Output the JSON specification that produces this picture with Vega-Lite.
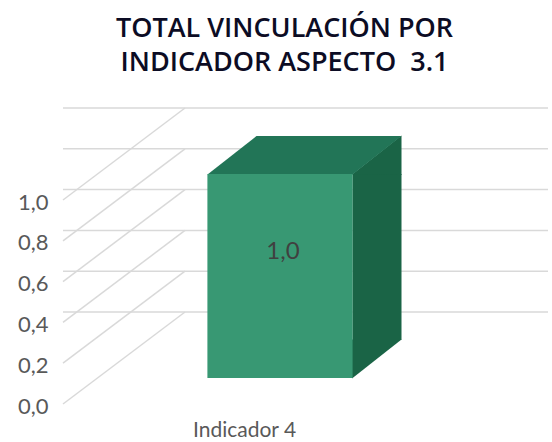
{
  "$schema": "https://vega.github.io/schema/vega-lite/v6.json",
  "width": 363,
  "height": 204,
  "autosize": "none",
  "padding": {"left": 63, "top": 200, "right": 126, "bottom": 38},
  "title": {
    "text": ["TOTAL VINCULACIÓN POR", "INDICADOR ASPECTO\u00a0 3.1"],
    "font": "Open Sans",
    "fontSize": 27,
    "fontWeight": 600,
    "color": "#0c0c24",
    "lineHeight": 34,
    "anchor": "middle",
    "frame": "group",
    "dx": 40,
    "offset": 30
  },
  "config": {
    "view": {"stroke": null},
    "font": "Lato",
    "locale": {"number": {"decimal": ",", "thousands": ".", "grouping": [3], "currency": ["", " €"]}}
  },
  "datasets": {
    "barras": [{"indicador": "Indicador 4", "valor": 1.0}],
    "marcas": [{"v": 0}, {"v": 0.2}, {"v": 0.4}, {"v": 0.6}, {"v": 0.8}, {"v": 1.0}]
  },
  "layer": [
    {
      "data": {"name": "marcas"},
      "mark": {"type": "rule", "color": "#d9d9d9", "strokeWidth": 1.5, "xOffset": 122, "x2Offset": 122, "yOffset": -92},
      "encoding": {
        "y": {"field": "v", "type": "quantitative", "scale": {"domain": [0, 1], "nice": false},
          "axis": {"values": [0, 0.2, 0.4, 0.6, 0.8, 1.0], "format": ".1f", "grid": false, "domain": false, "ticks": false, "title": null,
            "labelFont": "Lato", "labelFontSize": 22, "labelColor": "#595959", "labelPadding": 15, "labelOffset": 2}}
      }
    },
    {
      "data": {"name": "marcas"},
      "mark": {"type": "rule", "color": "#d9d9d9", "strokeWidth": 1.5, "xOffset": -181.5, "x2Offset": -59.5, "y2Offset": -92},
      "encoding": {
        "x": {"datum": "Indicador 4", "type": "nominal"},
        "x2": {"datum": "Indicador 4"},
        "y": {"field": "v", "type": "quantitative"},
        "y2": {"field": "v"}
      }
    },
    {
      "data": {"name": "barras"},
      "mark": {"type": "rule", "color": "#1a6446", "strokeWidth": 49, "strokeCap": "butt", "xOffset": 132.5, "yOffset": -26, "y2Offset": -64},
      "encoding": {
        "x": {"field": "indicador", "type": "nominal"},
        "y": {"field": "valor", "type": "quantitative"},
        "y2": {"datum": 0}
      }
    },
    {
      "data": {"name": "barras"},
      "mark": {"type": "point", "filled": true, "opacity": 1, "size": 4, "strokeWidth": 0, "color": "#1a6446",
        "shape": "M107.5,-25.5 L107.5,-64.5 L157,-64.5 Z"},
      "encoding": {
        "x": {"field": "indicador", "type": "nominal"},
        "y": {"datum": 0}
      }
    },
    {
      "data": {"name": "barras"},
      "mark": {"type": "point", "filled": true, "opacity": 1, "size": 4, "strokeWidth": 0, "color": "#1a6446",
        "shape": "M107.5,-25.5 L157,-64.5 L157,-25 Z"},
      "encoding": {
        "x": {"field": "indicador", "type": "nominal"},
        "y": {"field": "valor", "type": "quantitative"}
      }
    },
    {
      "data": {"name": "barras"},
      "mark": {"type": "point", "filled": true, "opacity": 1, "size": 4, "strokeWidth": 0, "color": "#227557",
        "shape": "M-37,-25.5 L108,-25.5 L157,-64 L12,-64 Z"},
      "encoding": {
        "x": {"field": "indicador", "type": "nominal"},
        "y": {"field": "valor", "type": "quantitative"}
      }
    },
    {
      "data": {"name": "barras"},
      "mark": {"type": "bar", "color": "#389873", "width": {"band": 0.4}, "xOffset": 35.5, "x2Offset": 35.5, "yOffset": -26, "y2Offset": -26},
      "encoding": {
        "x": {"field": "indicador", "type": "nominal", "scale": {"paddingInner": 0, "paddingOuter": 0},
          "axis": {"title": null, "domain": false, "ticks": false, "labelAngle": 0, "labelAlign": "center", "labelFont": "Lato", "labelFontSize": 21, "labelColor": "#595959", "labelPadding": 26}},
        "y": {"field": "valor", "type": "quantitative"},
        "y2": {"datum": 0}
      }
    },
    {
      "data": {"name": "barras"},
      "mark": {"type": "text", "font": "Lato", "fontSize": 24, "color": "#404040", "xOffset": 38.5, "yOffset": 52},
      "encoding": {
        "x": {"field": "indicador", "type": "nominal"},
        "y": {"field": "valor", "type": "quantitative"},
        "text": {"field": "valor", "type": "quantitative", "format": ".1f"}
      }
    }
  ]
}
